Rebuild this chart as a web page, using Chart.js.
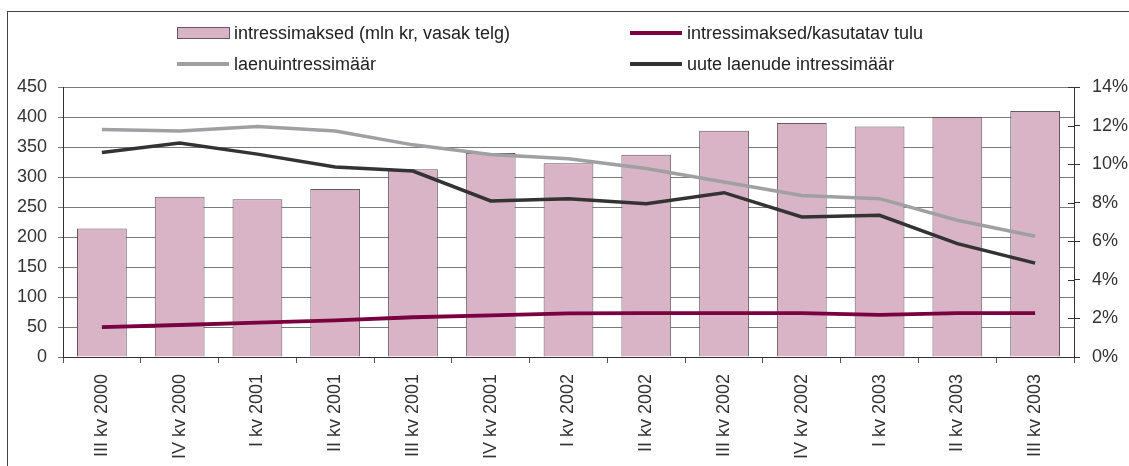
<!DOCTYPE html>
<html>
<head>
<meta charset="utf-8">
<script src="https://cdn.jsdelivr.net/npm/chart.js@4/dist/chart.umd.min.js"></script>
<style>
  html, body { margin: 0; padding: 0; background: #fff; }
  #wrap { position: relative; width: 1129px; height: 466px; overflow: hidden; }
  #frame { position: absolute; left: 7px; top: 11px; width: 1140px; height: 480px; border: 1px solid #444; box-sizing: border-box; }
  canvas { position: absolute; left: 0; top: 0; }
  .lg { position: absolute; font-family: "Liberation Sans", Arial, sans-serif; font-size: 18px; color: #222; white-space: nowrap; line-height: 20px; }
  .mk { position: absolute; box-sizing: border-box; }
</style>
</head>
<body>
<div id="wrap">
  <div id="frame"></div>
  <canvas id="c" width="1129" height="466"></canvas>
  <div id="legend"></div>
</div>
<script>
const categories = ['III kv 2000','IV kv 2000','I kv 2001','II kv 2001','III kv 2001','IV kv 2001','I kv 2002','II kv 2002','III kv 2002','IV kv 2002','I kv 2003','II kv 2003','III kv 2003'];
const interestPayments = [214, 267, 263, 280, 313, 340, 323, 337, 377, 390, 384, 400, 410];
const paymentsToIncome = [1.55, 1.66, 1.78, 1.90, 2.06, 2.16, 2.26, 2.28, 2.28, 2.28, 2.18, 2.28, 2.28];
const loanRate = [11.8, 11.72, 11.95, 11.72, 11.0, 10.5, 10.28, 9.77, 9.07, 8.38, 8.21, 7.09, 6.26];
const newLoanRate = [10.6, 11.1, 10.52, 9.85, 9.64, 8.09, 8.2, 7.95, 8.52, 7.26, 7.35, 5.88, 4.87];
const leftTicks = [0, 50, 100, 150, 200, 250, 300, 350, 400, 450];
const rightTicks = [0, 2, 4, 6, 8, 10, 12, 14];

const labels = {
  bars: 'intressimaksed (mln kr, vasak telg)',
  ratio: 'intressimaksed/kasutatav tulu',
  loan: 'laenuintressimäär',
  newLoan: 'uute laenude intressimäär'
};
const colors = {
  barFill: '#d8b4c6', barBorder: '#655860',
  ratio: '#7a0040', loan: '#a0a0a3', newLoan: '#333333'
};

// HTML legend
const legend = document.getElementById('legend');
function addLegend(kind, color, text, x, y) {
  const m = document.createElement('div');
  m.className = 'mk';
  if (kind === 'box') {
    Object.assign(m.style, { left: x + 'px', top: (y - 6) + 'px', width: '53px', height: '12px', background: colors.barFill, border: '1px solid ' + colors.barBorder });
  } else {
    Object.assign(m.style, { left: x + 'px', top: (y - 2) + 'px', width: '52px', height: '4px', background: color });
  }
  legend.appendChild(m);
  const t = document.createElement('div');
  t.className = 'lg';
  t.textContent = text;
  Object.assign(t.style, { left: (x + 57) + 'px', top: (y - 10) + 'px' });
  legend.appendChild(t);
}
addLegend('box', null, labels.bars, 177, 33);
addLegend('line', colors.ratio, labels.ratio, 630, 33);
addLegend('line', colors.loan, labels.loan, 177, 64);
addLegend('line', colors.newLoan, labels.newLoan, 630, 64);

const innerTicks = {
  id: 'innerTicks',
  afterDraw(chart) {
    const s = chart.scales.y1;
    const ctx = chart.ctx;
    ctx.save();
    ctx.strokeStyle = '#333';
    ctx.lineWidth = 1;
    s.ticks.forEach(t => {
      const y = Math.round(s.getPixelForValue(t.value)) + 0.5;
      ctx.beginPath();
      ctx.moveTo(s.left - 6, y);
      ctx.lineTo(s.left, y);
      ctx.stroke();
    });
    ctx.restore();
  }
};

const font = { family: '"Liberation Sans", Arial, sans-serif', size: 18 };

new Chart(document.getElementById('c'), {
  data: {
    labels: categories,
    datasets: [
      { type: 'line', label: labels.newLoan, data: newLoanRate, yAxisID: 'y1', borderColor: colors.newLoan, borderWidth: 3.5, pointRadius: 0, tension: 0, order: 0 },
      { type: 'line', label: labels.loan, data: loanRate, yAxisID: 'y1', borderColor: colors.loan, borderWidth: 3.5, pointRadius: 0, tension: 0, order: 1 },
      { type: 'line', label: labels.ratio, data: paymentsToIncome, yAxisID: 'y1', borderColor: colors.ratio, borderWidth: 3.8, pointRadius: 0, tension: 0, order: 2 },
      { type: 'bar', label: labels.bars, data: interestPayments, yAxisID: 'y', backgroundColor: colors.barFill, borderColor: colors.barBorder, borderWidth: 1, barPercentage: 0.64, categoryPercentage: 1, order: 5 }
    ]
  },
  options: {
    responsive: false,
    animation: false,
    events: [],
    layout: { padding: { top: 87, left: 0, right: 0, bottom: 0 } },
    plugins: { legend: { display: false }, tooltip: { enabled: false } },
    scales: {
      x: {
        offset: true,
        grid: { offset: true, drawOnChartArea: false, tickLength: 6, color: '#555' },
        border: { color: '#333', width: 1 },
        ticks: { font: font, color: '#333', maxRotation: 90, minRotation: 90, padding: 11, autoSkip: false },
        afterFit(s) { s.height = 109; }
      },
      y: {
        position: 'left',
        min: 0, max: 450,
        afterBuildTicks(s) { s.ticks = leftTicks.map(v => ({ value: v })); },
        grid: { color: '#7a7a7a', tickLength: 5, drawOnChartArea: true },
        border: { color: '#333' },
        ticks: { font: font, color: '#333', padding: 11 },
        afterFit(s) { s.width = 63; }
      },
      y1: {
        position: 'right',
        min: 0, max: 14,
        afterBuildTicks(s) { s.ticks = rightTicks.map(v => ({ value: v })); },
        grid: { drawOnChartArea: false, tickLength: 6, color: '#333' },
        border: { color: '#333' },
        ticks: { font: font, color: '#333', padding: 12, callback: v => v + '%' },
        afterFit(s) { s.width = 55; }
      }
    }
  },
  plugins: [innerTicks]
});
</script>
</body>
</html>
